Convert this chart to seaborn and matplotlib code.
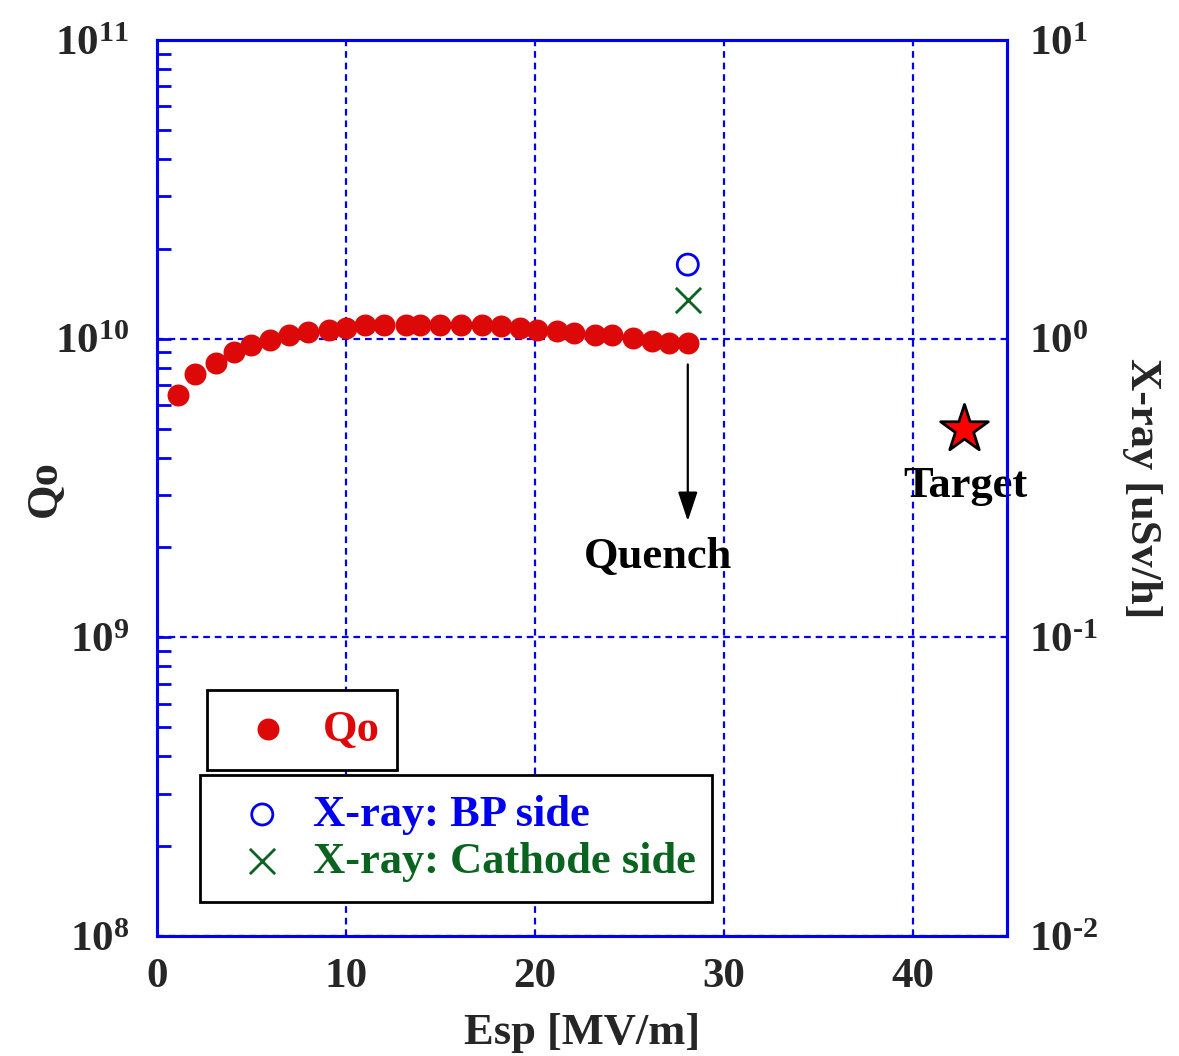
import matplotlib
matplotlib.use("Agg")
import matplotlib.pyplot as plt
import seaborn as sns
from matplotlib.ticker import (LogLocator, FuncFormatter, NullFormatter,
                               FixedLocator, NullLocator)
import numpy as np

# Qo vs surface peak field
esp = [1.1, 2.0, 3.1, 4.1, 5.0, 6.0, 7.0, 8.0, 9.1, 10.0, 11.0, 12.0, 13.2, 13.9,
       15.0, 16.1, 17.2, 18.2, 19.2, 20.1, 21.2, 22.1, 23.2, 24.1, 25.2, 26.2, 27.1, 28.1]
q0 = [6.5e9, 7.6e9, 8.3e9, 9.0e9, 9.55e9, 9.9e9, 1.03e10, 1.05e10, 1.07e10, 1.09e10,
      1.11e10, 1.11e10, 1.11e10, 1.11e10, 1.11e10, 1.11e10, 1.11e10, 1.10e10, 1.09e10,
      1.07e10, 1.06e10, 1.045e10, 1.03e10, 1.03e10, 1.005e10, 0.98e10, 0.97e10, 0.97e10]

# X-ray dose rates at the quench field
xray_esp = [28.1]
xray_bp = [1.77]
xray_cathode = [1.35]

# Goal point
target_esp = [42.7]
target_xray = [0.5]

quench_esp = 28.1

RED = "#dd0808"
BLUE = "#0000ee"
GREEN = "#0a6420"

sns.set_style("white")
plt.rcParams["font.family"] = ["Liberation Serif", "DejaVu Serif"]
plt.rcParams["font.weight"] = "bold"
plt.rcParams["mathtext.fontset"] = "custom"
plt.rcParams["mathtext.rm"] = "Liberation Serif:bold"
plt.rcParams["mathtext.it"] = "Liberation Serif:bold"
plt.rcParams["mathtext.bf"] = "Liberation Serif:bold"
plt.rcParams["mathtext.default"] = "rm"

FS = 32
TFS = 31


def pow10(v, pos):
    e = int(round(np.log10(v)))
    if e < 0:
        return r"$10^{\text{-}%d}$" % (-e)
    return r"$10^{%d}$" % e


fig = plt.figure(figsize=(11.79, 10.56), dpi=100)
ax = fig.add_axes([0.1332, 0.1136, 0.7209, 0.8485])

sns.scatterplot(x=esp, y=q0, ax=ax, color=RED, s=250, linewidth=0, label="Qo",
                legend=False, zorder=3)

ax.set_yscale("log")
ax.set_xlim(0, 45)
ax.set_ylim(1e8, 1e11)

ax.xaxis.set_major_locator(FixedLocator([0, 10, 20, 30, 40]))
ax.yaxis.set_major_locator(LogLocator(base=10, numticks=10))
ax.yaxis.set_major_formatter(FuncFormatter(pow10))
ax.yaxis.set_minor_locator(LogLocator(base=10, subs=range(2, 10), numticks=20))
ax.yaxis.set_minor_formatter(NullFormatter())

ax.tick_params(axis="both", which="major", direction="in", length=10, width=2,
               color=BLUE, labelsize=TFS)
ax.tick_params(axis="y", which="minor", direction="in", length=10, width=2, color=BLUE)
ax.tick_params(axis="y", which="major", pad=20)
ax.tick_params(axis="x", which="major", pad=16)

ax.grid(True, which="major", color=BLUE, linestyle=(0, (3, 2.2)), linewidth=1.6)
for sp in ax.spines.values():
    sp.set_color(BLUE)
    sp.set_linewidth(2.2)

ax.set_xlabel("Esp [MV/m]", fontsize=FS, fontweight="bold", labelpad=12)
ax.set_ylabel("Qo", fontsize=FS, fontweight="bold")
ax.yaxis.set_label_coords(-0.108, 0.5)

# Quench marker and label
ax.annotate("", xy=(quench_esp, 2.45e9), xytext=(quench_esp, 8.2e9),
            arrowprops=dict(arrowstyle="-|>,head_length=0.6,head_width=0.2",
                            color="black", lw=1.6, mutation_scale=30,
                            shrinkA=0, shrinkB=0))
ax.text(26.5, 1.86e9, "Quench", ha="center", va="center", fontsize=FS,
        fontweight="bold", color="black")
ax.text(42.8, 3.2e9, "Target", ha="center", va="center", fontsize=FS,
        fontweight="bold", color="black", zorder=6)

# Right axis: X-ray dose rate
ax2 = ax.twinx()
ax2.set_yscale("log")
ax2.set_ylim(1e-2, 1e1)
ax2.yaxis.set_major_locator(LogLocator(base=10, numticks=10))
ax2.yaxis.set_major_formatter(FuncFormatter(pow10))
ax2.yaxis.set_minor_locator(NullLocator())
ax2.tick_params(axis="y", which="major", direction="in", length=0, labelsize=TFS, pad=16)
for sp in ax2.spines.values():
    sp.set_color(BLUE)
    sp.set_linewidth(2.2)
ax2.set_ylabel("X-ray [uSv/h]", fontsize=FS, fontweight="bold", rotation=270,
               labelpad=46)

sns.scatterplot(x=xray_esp, y=xray_bp, ax=ax2, marker="o", s=230,
                facecolors="none", edgecolors=BLUE, linewidth=2, legend=False,
                label="X-ray: BP side", zorder=4)
sns.scatterplot(x=xray_esp, y=xray_cathode, ax=ax2, marker="x", s=330,
                color=GREEN, linewidth=2, legend=False,
                label="X-ray: Cathode side", zorder=4)
sns.scatterplot(x=target_esp, y=target_xray, ax=ax2, marker="*", s=1300,
                color="red", edgecolor="black", linewidth=2, legend=False, zorder=5)

h_q0 = ax.collections[0]
h_bp = ax2.collections[0]
h_cat = ax2.collections[1]

leg1 = ax2.legend([h_q0], ["Qo"], loc="upper left",
                  bbox_to_anchor=(0.0588, 0.1853, 0.2235, 0.0893), mode="expand",
                  fontsize=FS, frameon=True, fancybox=False, framealpha=1,
                  borderpad=0.45, handlelength=1.85, handletextpad=0.3,
                  borderaxespad=0)
leg1.get_frame().set_edgecolor("black")
leg1.get_frame().set_linewidth(2)
leg1.get_texts()[0].set_color(RED)
ax2.add_artist(leg1)

leg2 = ax2.legend([h_bp, h_cat], ["X-ray: BP side", "X-ray: Cathode side"],
                  loc="upper left", bbox_to_anchor=(0.0506, 0.0402, 0.6024, 0.1395),
                  mode="expand", fontsize=FS, frameon=True, fancybox=False,
                  framealpha=1, borderpad=0.45, labelspacing=0.15,
                  handlelength=1.9, handletextpad=0.2, borderaxespad=0)
leg2.get_frame().set_edgecolor("black")
leg2.get_frame().set_linewidth(2)
leg2.get_texts()[0].set_color(BLUE)
leg2.get_texts()[1].set_color(GREEN)

fig.savefig("out.png", dpi=100)
